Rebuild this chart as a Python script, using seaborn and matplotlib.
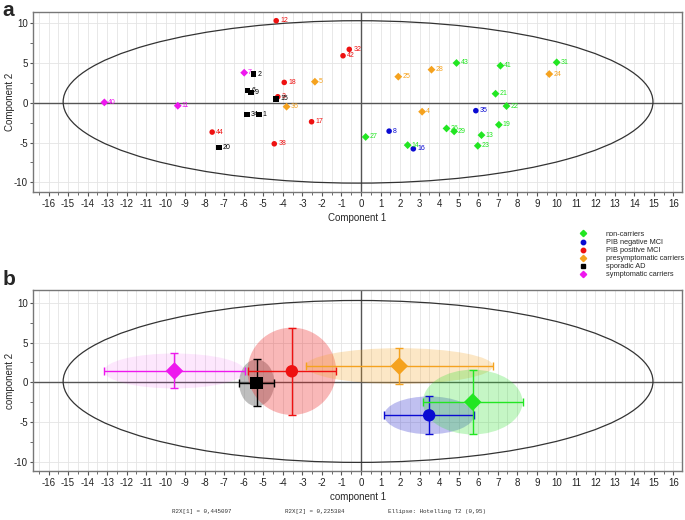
import numpy as np
import pandas as pd
import matplotlib
matplotlib.use("Agg")
import matplotlib.pyplot as plt
import seaborn as sns
from matplotlib.patches import Ellipse
from matplotlib.lines import Line2D
from matplotlib.ticker import MultipleLocator

# Score plot (panel a) values
score_ids = ["12", "32", "42", "7", "2", "18", "5", "6", "9", "3", "15", "40", "11", "36",
             "34", "1", "17", "44", "38", "20", "27", "43", "41", "31", "28", "25", "24",
             "21", "22", "4", "35", "8", "26", "29", "19", "13", "14", "16", "23"]
score_x = [-4.34, -0.60, -0.92, -5.98, -5.50, -3.93, -2.36, -5.81, -5.64, -4.26, -4.34, -13.14,
           -9.38, -3.81, -5.85, -5.23, -2.53, -7.62, -4.44, -7.28, 0.24, 4.89, 7.14, 10.02,
           3.61, 1.91, 9.64, 6.89, 7.45, 3.13, 5.88, 1.44, 4.38, 4.77, 7.06, 6.17, 2.39,
           2.68, 5.98]
score_y = [10.3, 6.7, 5.9, 3.77, 3.6, 2.55, 2.64, 1.51, 1.26, 0.75, 0.5, 0.04, -0.38, -0.5,
           -1.47, -1.47, -2.39, -3.69, -5.16, -5.62, -4.3, 4.99, 4.65, 5.07, 4.15, 3.27, 3.6,
           1.13, -0.42, -1.13, -1.0, -3.57, -3.23, -3.6, -2.77, -4.07, -5.33, -5.79, -5.41]
score_group = ["PIB positive MCI", "PIB positive MCI", "PIB positive MCI", "symptomatic carriers",
               "sporadic AD", "PIB positive MCI", "presymptomatic carriers", "sporadic AD",
               "sporadic AD", "PIB positive MCI", "sporadic AD", "symptomatic carriers",
               "symptomatic carriers", "presymptomatic carriers", "sporadic AD", "sporadic AD",
               "PIB positive MCI", "PIB positive MCI", "PIB positive MCI", "sporadic AD",
               "non-carriers", "non-carriers", "non-carriers", "non-carriers",
               "presymptomatic carriers", "presymptomatic carriers", "presymptomatic carriers",
               "non-carriers", "non-carriers", "presymptomatic carriers", "PIB negative MCI",
               "PIB negative MCI", "non-carriers", "non-carriers", "non-carriers",
               "non-carriers", "non-carriers", "PIB negative MCI", "non-carriers"]

# Group means and spreads (panel b)
group_names = ["symptomatic carriers", "sporadic AD", "PIB positive MCI",
               "presymptomatic carriers", "PIB negative MCI", "non-carriers"]
mean_x = [-9.55, -5.34, -3.54, 1.96, 3.49, 5.72]
mean_y = [1.42, -0.08, 1.38, 2.04, -4.17, -2.5]
sd_x = [3.6, 0.9, 2.27, 4.8, 2.3, 2.55]
sd_y = [2.2, 2.95, 5.5, 2.25, 2.38, 4.08]

legend_order = ["non-carriers", "PIB negative MCI", "PIB positive MCI",
                "presymptomatic carriers", "sporadic AD", "symptomatic carriers"]

palette = {"non-carriers": "#22e622", "PIB negative MCI": "#0a0ad2",
           "PIB positive MCI": "#ee1111", "presymptomatic carriers": "#f5a21e",
           "sporadic AD": "#000000", "symptomatic carriers": "#ee18ee"}
markers = {"non-carriers": "D", "PIB negative MCI": "o", "PIB positive MCI": "o",
           "presymptomatic carriers": "D", "sporadic AD": "s", "symptomatic carriers": "D"}
fills = {"symptomatic carriers": ("#ee18ee", 0.10), "sporadic AD": ("#707070", 0.45),
         "PIB positive MCI": ("#ee2222", 0.32), "presymptomatic carriers": ("#f5a21e", 0.25),
         "PIB negative MCI": ("#3030d0", 0.30), "non-carriers": ("#30e030", 0.28)}

sns.set_style("white")
plt.rcParams["font.family"] = ["Liberation Sans", "DejaVu Sans"]
plt.rcParams["axes.unicode_minus"] = False
narrow = ["Liberation Sans Narrow", "Liberation Sans", "DejaVu Sans"]

df = pd.DataFrame({"id": score_ids, "pc1": score_x, "pc2": score_y, "group": score_group})

fig = plt.figure(figsize=(6.85, 5.2), dpi=100)
ax_a = fig.add_axes([0.048, 0.631, 0.948, 0.346])
ax_b = fig.add_axes([0.048, 0.094, 0.948, 0.348])


def style_axes(ax, ylim):
    ax.set_xlim(-16.8, 16.45)
    ax.set_ylim(*ylim)
    ax.xaxis.set_major_locator(MultipleLocator(1))
    ax.xaxis.set_minor_locator(MultipleLocator(0.5))
    ax.yaxis.set_major_locator(MultipleLocator(5))
    ax.yaxis.set_minor_locator(MultipleLocator(2.5))
    ax.grid(True, which="both", axis="x", color="#e4e4e4", lw=0.6)
    ax.grid(True, which="major", axis="y", color="#e4e4e4", lw=0.6)
    ax.set_axisbelow(True)
    ax.axhline(0, color="#555555", lw=1.0, zorder=1)
    ax.axvline(0, color="#555555", lw=1.0, zorder=1)
    for sp in ax.spines.values():
        sp.set_color("#777777")
        sp.set_linewidth(1.0)
    ax.tick_params(which="both", direction="out", colors="#555555", labelcolor="#222222",
                   bottom=True, left=True)
    ax.tick_params(axis="x", which="major", length=3, pad=2)
    ax.tick_params(axis="x", which="minor", length=2)
    ax.tick_params(axis="y", which="both", length=2, pad=1.5)
    for lab in ax.get_xticklabels() + ax.get_yticklabels():
        lab.set_family(narrow)
        lab.set_fontsize(7)
    # Hotelling T2 ellipse
    ax.add_patch(Ellipse((-0.15, 0.1), 30.2, 20.4, fill=False, ec="#333333", lw=0.9, zorder=2))


# Panel a: scores
style_axes(ax_a, (-11.2, 11.4))
sns.scatterplot(data=df, x="pc1", y="pc2", hue="group", style="group", palette=palette,
                markers=markers, s=16, edgecolor="none", legend=False, ax=ax_a, zorder=3)
for _, r in df.iterrows():
    ax_a.text(r.pc1 + 0.2, r.pc2, r.id, color=palette[r.group], fontsize=5,
              va="center", ha="left", zorder=4)
ax_a.set_xlabel("Component 1", fontsize=7, labelpad=3)
ax_a.set_ylabel("Component 2", fontsize=7)
ax_a.yaxis.set_label_coords(-0.028, 0.5)

# Panel b: group means with spread ellipses
style_axes(ax_b, (-11.2, 11.6))
for g, mx, my, sx, sy in zip(group_names, mean_x, mean_y, sd_x, sd_y):
    col, a = fills[g]
    ax_b.add_patch(Ellipse((mx, my), 2 * sx, 2 * sy, fc=col, alpha=a, ec="none", zorder=2))
for g, mx, my, sx, sy in zip(group_names, mean_x, mean_y, sd_x, sd_y):
    ax_b.errorbar(mx, my, xerr=sx, yerr=sy, color=palette[g], lw=1.0, capsize=3,
                  capthick=1.0, fmt="none", zorder=3)
means = pd.DataFrame({"group": group_names, "mx": mean_x, "my": mean_y})
sns.scatterplot(data=means, x="mx", y="my", hue="group", style="group", palette=palette,
                markers=markers, s=80, edgecolor="none", legend=False, ax=ax_b, zorder=4)
ax_b.set_xlabel("component 1", fontsize=7, labelpad=3)
ax_b.set_ylabel("component 2", fontsize=7)
ax_b.yaxis.set_label_coords(-0.028, 0.5)

fig.text(0.004, 0.998, "a", fontsize=15, fontweight="bold", va="top", ha="left")
fig.text(0.004, 0.445, "b", fontsize=15, fontweight="bold", va="bottom", ha="left")

handles = [Line2D([], [], ls="none", marker=markers[g], color=palette[g], markersize=3.2)
           for g in legend_order]
fig.legend(handles, legend_order, loc="upper left", bbox_to_anchor=(0.841, 0.563),
           frameon=False, fontsize=5.3, handlelength=1.0, handletextpad=2.5,
           labelspacing=0.12, borderpad=0)

mono = ["Liberation Mono", "DejaVu Sans Mono"]
fig.text(0.251, 0.013, "R2X[1] = 0,445097", fontsize=4.2, family=mono, color="#333333")
fig.text(0.416, 0.013, "R2X[2] = 0,225384", fontsize=4.2, family=mono, color="#333333")
fig.text(0.566, 0.013, "Ellipse: Hotelling T2 (0,95)", fontsize=4.2, family=mono, color="#333333")

fig.savefig("out.png", dpi=100)
